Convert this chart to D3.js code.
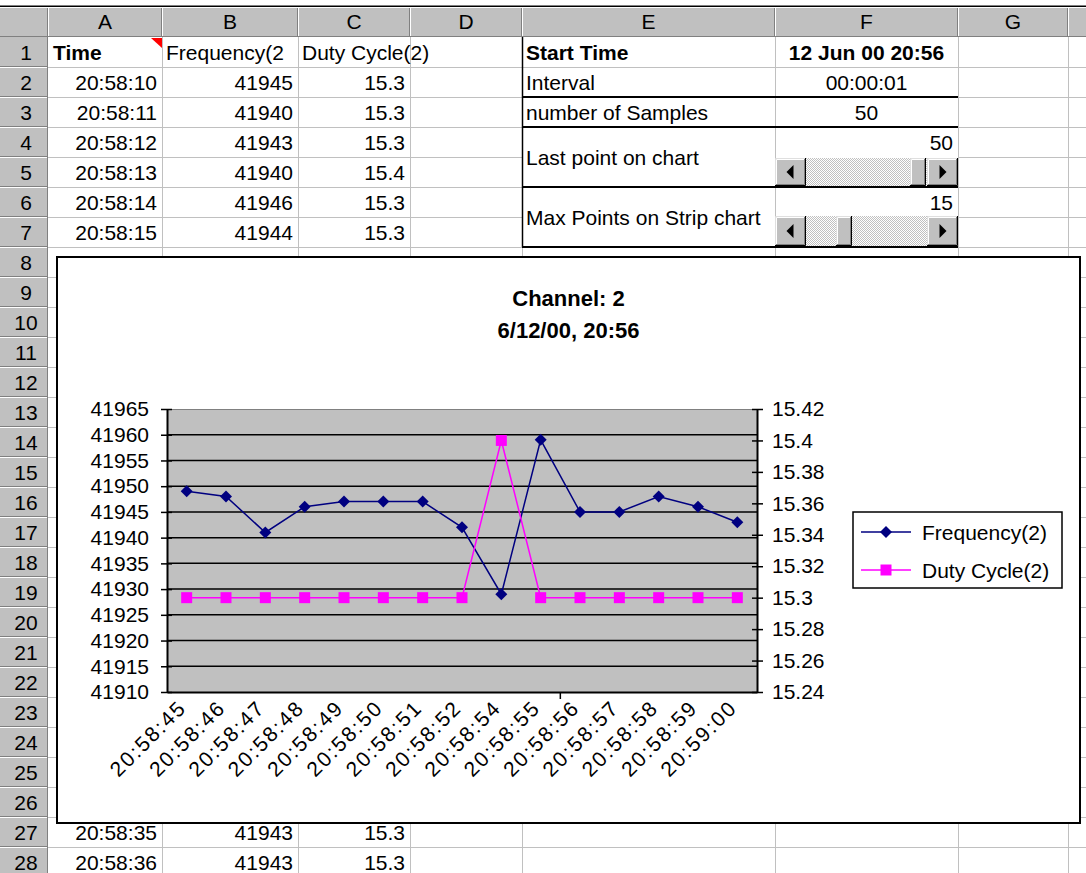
<!DOCTYPE html>
<html><head><meta charset="utf-8">
<script src="https://cdn.jsdelivr.net/npm/d3@7"></script>
<style>
html,body{margin:0;padding:0;background:#fff;}
svg{display:block;font-family:"Liberation Sans",Arial,sans-serif;}
</style></head><body>
<svg id="c" width="1086" height="873"></svg>
<script>
// ---------- chart data ----------
const categories = ["20:58:45","20:58:46","20:58:47","20:58:48","20:58:49","20:58:50","20:58:51","20:58:52","20:58:54","20:58:55","20:58:56","20:58:57","20:58:58","20:58:59","20:59:00"];
const frequency = [41949,41948,41941,41946,41947,41947,41947,41942,41929,41959,41945,41945,41948,41946,41943];
const dutyCycle = [15.3,15.3,15.3,15.3,15.3,15.3,15.3,15.3,15.4,15.3,15.3,15.3,15.3,15.3,15.3];
const freqTicks = [41910,41915,41920,41925,41930,41935,41940,41945,41950,41955,41960,41965];
const dutyTicks = [15.24,15.26,15.28,15.3,15.32,15.34,15.36,15.38,15.4,15.42];
const seriesNames = ["Frequency(2)","Duty Cycle(2)"];
const chartTitle = ["Channel: 2","6/12/00, 20:56"];

// ---------- spreadsheet data ----------
const colLetters = ["A","B","C","D","E","F","G",""];
const headerCells = ["Time","Frequency(2","Duty Cycle(2)"];
const upperTimes = ["20:58:10","20:58:11","20:58:12","20:58:13","20:58:14","20:58:15","20:58:16"];
const upperFreq = [41945,41940,41943,41940,41946,41944,41939];
const upperDuty = ["15.3","15.3","15.3","15.4","15.3","15.3","15.4"];
const lowerTimes = ["20:58:35","20:58:36"];
const lowerFreq = [41943,41943];
const lowerDuty = ["15.3","15.3"];
const infoLabels = ["Start Time","Interval","number of Samples","Last point on chart","Max Points on Strip chart"];
const infoValues = ["12 Jun 00 20:56","00:00:01","50","50","15"];

// ---------- layout ----------
const W = 1086, H = 873;
const colX = [0,48,162,298,410,522,775,958,1068,1086];
const headTop = 7, headBot = 37, rowH = 30, nRows = 28;
const rowTop = n => headBot + (n-1)*rowH;
const FS = 21;

const svg = d3.select("#c");
svg.append("rect").attr("width",W).attr("height",H).attr("fill","#fff");

const defs = svg.append("defs");
const pat = defs.append("pattern").attr("id","dots").attr("width",2).attr("height",2).attr("patternUnits","userSpaceOnUse");
pat.append("rect").attr("width",2).attr("height",2).attr("fill","#fff");
pat.append("rect").attr("width",1).attr("height",1).attr("fill","#c0c0c0");
pat.append("rect").attr("x",1).attr("y",1).attr("width",1).attr("height",1).attr("fill","#c0c0c0");

// ---------- grid ----------
const grid = svg.append("g").attr("stroke","#c0c0c0").attr("stroke-width",1);
for (let i = 2; i <= 8; i++) {
  grid.append("line").attr("x1",colX[i]+0.5).attr("x2",colX[i]+0.5).attr("y1",headBot).attr("y2",H);
}
for (let n = 1; n <= nRows; n++) {
  const y = rowTop(n+1) + 0.5;
  if (n === 4 || n === 6) {
    grid.append("line").attr("x1",colX[1]).attr("x2",colX[5]).attr("y1",y).attr("y2",y);
    grid.append("line").attr("x1",colX[7]).attr("x2",W).attr("y1",y).attr("y2",y);
  } else {
    grid.append("line").attr("x1",colX[1]).attr("x2",W).attr("y1",y).attr("y2",y);
  }
}

// ---------- headers ----------
svg.append("rect").attr("x",0).attr("y",headTop).attr("width",W).attr("height",headBot-headTop).attr("fill","#c0c0c0");
svg.append("rect").attr("x",0).attr("y",headBot).attr("width",colX[1]).attr("height",H-headBot).attr("fill","#c0c0c0");
svg.append("line").attr("x1",0).attr("x2",W).attr("y1",headTop-0.5).attr("y2",headTop-0.5).attr("stroke","#000").attr("stroke-width",2);
const hd = svg.append("g");
for (let i = 1; i <= 8; i++) {
  hd.append("line").attr("x1",colX[i]-0.5).attr("x2",colX[i]-0.5).attr("y1",headTop).attr("y2",headBot).attr("stroke","#808080");
  hd.append("line").attr("x1",colX[i]+0.5).attr("x2",colX[i]+0.5).attr("y1",headTop).attr("y2",headBot).attr("stroke","#fff");
}
hd.append("line").attr("x1",0).attr("x2",W).attr("y1",headBot-0.5).attr("y2",headBot-0.5).attr("stroke","#808080");
hd.append("line").attr("x1",0).attr("x2",W).attr("y1",headTop+0.5).attr("y2",headTop+0.5).attr("stroke","#fff");
hd.append("line").attr("x1",colX[1]-0.5).attr("x2",colX[1]-0.5).attr("y1",headBot).attr("y2",H).attr("stroke","#808080");
for (let n = 1; n <= nRows; n++) {
  const yb = rowTop(n+1);
  hd.append("line").attr("x1",0).attr("x2",colX[1]).attr("y1",yb-0.5).attr("y2",yb-0.5).attr("stroke","#808080");
  hd.append("line").attr("x1",0).attr("x2",colX[1]-1).attr("y1",yb+0.5).attr("y2",yb+0.5).attr("stroke","#fff");
  hd.append("text").attr("x",colX[1]/2+2).attr("y",rowTop(n)+rowH/2+7.5).attr("text-anchor","middle").attr("font-size",FS).text(n);
}
colLetters.forEach((c,i) => {
  hd.append("text").attr("x",(colX[i+1]+colX[i+2])/2).attr("y",headBot-8).attr("text-anchor","middle").attr("font-size",FS).text(c);
});

// ---------- cells ----------
const cells = svg.append("g").attr("font-size",FS);
const base = n => rowTop(n) + rowH/2 + 7.5;
cells.append("text").attr("x",colX[1]+5).attr("y",base(1)).attr("font-weight","bold").text(headerCells[0]);
defs.append("clipPath").attr("id","clipB").append("rect").attr("x",colX[2]).attr("y",rowTop(1)).attr("width",colX[3]-colX[2]).attr("height",rowH);
cells.append("text").attr("x",colX[2]+4).attr("y",base(1)).attr("clip-path","url(#clipB)").text(headerCells[1]);
cells.append("text").attr("x",colX[3]+4).attr("y",base(1)).text(headerCells[2]);
svg.append("path").attr("d",`M${colX[2]-11},${rowTop(1)+1}L${colX[2]},${rowTop(1)+1}L${colX[2]},${rowTop(1)+11}Z`).attr("fill","#ff0000");
function dataRows(times, freqs, duties, firstRow) {
  times.forEach((t,i) => {
    const n = firstRow + i;
    cells.append("text").attr("x",colX[2]-5).attr("y",base(n)).attr("text-anchor","end").text(t);
    cells.append("text").attr("x",colX[3]-5).attr("y",base(n)).attr("text-anchor","end").text(freqs[i]);
    cells.append("text").attr("x",colX[4]-5).attr("y",base(n)).attr("text-anchor","end").text(duties[i]);
  });
}
dataRows(upperTimes, upperFreq, upperDuty, 2);
dataRows(lowerTimes, lowerFreq, lowerDuty, 27);

// info block
const eX = colX[5]+4, fMid = (colX[6]+colX[7])/2;
cells.append("text").attr("x",eX).attr("y",base(1)).attr("font-weight","bold").text(infoLabels[0]);
cells.append("text").attr("x",fMid).attr("y",base(1)).attr("font-weight","bold").attr("text-anchor","middle").text(infoValues[0]);
cells.append("text").attr("x",eX).attr("y",base(2)).text(infoLabels[1]);
cells.append("text").attr("x",fMid).attr("y",base(2)).attr("text-anchor","middle").text(infoValues[1]);
cells.append("text").attr("x",eX).attr("y",base(3)).text(infoLabels[2]);
cells.append("text").attr("x",fMid).attr("y",base(3)).attr("text-anchor","middle").text(infoValues[2]);
cells.append("text").attr("x",eX).attr("y",rowTop(5)+7.5).text(infoLabels[3]);
cells.append("text").attr("x",colX[7]-5).attr("y",base(4)).attr("text-anchor","end").text(infoValues[3]);
cells.append("text").attr("x",eX).attr("y",rowTop(7)+7.5).text(infoLabels[4]);
cells.append("text").attr("x",colX[7]-5).attr("y",base(6)).attr("text-anchor","end").text(infoValues[4]);

// borders
const bd = svg.append("g").attr("stroke","#000").attr("stroke-width",2);
[3,4,6,8].forEach(n => bd.append("line").attr("x1",colX[5]).attr("x2",colX[7]).attr("y1",rowTop(n)).attr("y2",rowTop(n)));
bd.append("line").attr("x1",colX[5]+0.5).attr("x2",colX[5]+0.5).attr("y1",headBot).attr("y2",rowTop(8)).attr("stroke-width",1.5);

// scrollbars
function scrollbar(x0, x1, y0, y1, t0, t1) {
  const g = svg.append("g");
  g.append("rect").attr("x",x0).attr("y",y0).attr("width",x1-x0).attr("height",y1-y0).attr("fill","url(#dots)");
  const bw = 31;
  function bevel(bx0, bx1) {
    g.append("rect").attr("x",bx0).attr("y",y0).attr("width",bx1-bx0).attr("height",y1-y0).attr("fill","#c0c0c0");
    g.append("path").attr("d",`M${bx0+0.5},${y1-1}V${y0+0.5}H${bx1-1}`).attr("fill","none").attr("stroke","#dfdfdf");
    g.append("path").attr("d",`M${bx0+1.5},${y1-2}V${y0+1.5}H${bx1-2}`).attr("fill","none").attr("stroke","#fff");
    g.append("path").attr("d",`M${bx0+1},${y1-1.5}H${bx1-1.5}V${y0+1}`).attr("fill","none").attr("stroke","#808080");
    g.append("path").attr("d",`M${bx0},${y1-0.5}H${bx1-0.5}V${y0}`).attr("fill","none").attr("stroke","#000");
  }
  bevel(x0, x0+bw);
  bevel(x1-bw, x1);
  bevel(t0, t1);
  const cy = (y0+y1)/2;
  g.append("path").attr("d",`M${x0+bw/2-4},${cy}L${x0+bw/2+3},${cy-7}L${x0+bw/2+3},${cy+7}Z`).attr("fill","#000");
  g.append("path").attr("d",`M${x1-bw/2+4},${cy}L${x1-bw/2-3},${cy-7}L${x1-bw/2-3},${cy+7}Z`).attr("fill","#000");
}
scrollbar(colX[6], colX[7], rowTop(5)+1, rowTop(6)-1, 910, 926);
scrollbar(colX[6], colX[7], rowTop(7)-1, rowTop(8)-1, 836, 852);

// ---------- chart ----------
const frame = {x:57, y:257, w:1023, h:566};
const plot = {l:167, r:757, t:409, b:692};
const ch = svg.append("g");
ch.append("rect").attr("x",frame.x).attr("y",frame.y).attr("width",frame.w).attr("height",frame.h).attr("fill","#fff").attr("stroke","#000").attr("stroke-width",2);

ch.selectAll("text.title").data(chartTitle).join("text").attr("class","title")
  .attr("x",frame.x+frame.w/2).attr("y",(d,i) => 306 + i*32)
  .attr("text-anchor","middle").attr("font-weight","bold").attr("font-size",22).text(d => d);

const x = d3.scaleBand().domain(categories).range([plot.l, plot.r]);
const yL = d3.scaleLinear().domain([41910,41965]).range([plot.b, plot.t]);
const yR = d3.scaleLinear().domain([15.24,15.42]).range([plot.b, plot.t]);
const cx = d => x(d) + x.bandwidth()/2;

ch.append("rect").attr("x",plot.l).attr("y",plot.t).attr("width",plot.r-plot.l).attr("height",plot.b-plot.t).attr("fill","#c0c0c0");
ch.selectAll("line.grid").data(freqTicks.slice(1,-1)).join("line").attr("class","grid")
  .attr("x1",plot.l).attr("x2",plot.r).attr("y1",d => yL(d)).attr("y2",d => yL(d)).attr("stroke","#000").attr("stroke-width",1.5);
ch.append("line").attr("x1",plot.l).attr("x2",plot.r).attr("y1",plot.t+0.5).attr("y2",plot.t+0.5).attr("stroke","#808080");

// left axis
const axL = ch.append("g").attr("transform",`translate(${plot.l},0)`)
  .call(d3.axisLeft(yL).tickValues(freqTicks).tickFormat(d3.format("d")).tickSize(6).tickSizeOuter(0).tickPadding(12));
axL.selectAll(".tick line").attr("x1",5).attr("stroke-width",1.5);
axL.select(".domain").attr("stroke-width",2);
axL.selectAll("text").attr("font-size",FS).attr("font-family","Liberation Sans, Arial, sans-serif").attr("fill","#000");

// right axis
const axR = ch.append("g").attr("transform",`translate(${plot.r},0)`)
  .call(d3.axisRight(yR).tickValues(dutyTicks).tickFormat(d => String(+d.toFixed(2))).tickSize(6).tickSizeOuter(0).tickPadding(9));
axR.selectAll(".tick line").attr("x1",-5).attr("stroke-width",1.5);
axR.select(".domain").attr("stroke-width",2);
axR.selectAll("text").attr("font-size",FS).attr("font-family","Liberation Sans, Arial, sans-serif").attr("fill","#000");

// bottom axis
const axB = ch.append("g").attr("transform",`translate(0,${plot.b})`)
  .call(d3.axisBottom(x).tickSize(0).tickSizeOuter(0).tickFormat(""));
axB.select(".domain").attr("stroke-width",2);
axB.append("line").attr("x1",x(categories[10])).attr("x2",x(categories[10])).attr("y1",0).attr("y2",7).attr("stroke","#000").attr("stroke-width",1.5);
ch.selectAll("text.xl").data(categories).join("text").attr("class","xl")
  .attr("transform",d => `translate(${cx(d)+1},${plot.b+17}) rotate(-45)`)
  .attr("text-anchor","end").attr("font-size",FS).attr("letter-spacing",2).text(d => d);

// series
const lineF = d3.line().x((d,i) => cx(categories[i])).y(d => yL(d));
const lineD = d3.line().x((d,i) => cx(categories[i])).y(d => yR(d));
ch.append("path").datum(frequency).attr("d",lineF).attr("fill","none").attr("stroke","#000080").attr("stroke-width",1.5);
const diamond = "M0,-6L6,0L0,6L-6,0Z";
ch.selectAll("path.mf").data(frequency).join("path").attr("class","mf")
  .attr("transform",(d,i) => `translate(${cx(categories[i])},${yL(d)})`).attr("d",diamond).attr("fill","#000080");
ch.append("path").datum(dutyCycle).attr("d",lineD).attr("fill","none").attr("stroke","#ff00ff").attr("stroke-width",1.5);
const square = d3.symbol(d3.symbolSquare, 121)();
ch.selectAll("path.md").data(dutyCycle).join("path").attr("class","md")
  .attr("transform",(d,i) => `translate(${cx(categories[i])},${yR(d)})`).attr("d",square).attr("fill","#ff00ff");

// legend
const lg = ch.append("g");
lg.append("rect").attr("x",853).attr("y",512).attr("width",209).attr("height",76).attr("fill","#fff").attr("stroke","#000").attr("stroke-width",1.5);
const lgColors = ["#000080","#ff00ff"];
seriesNames.forEach((s,i) => {
  const y = 532 + i*38;
  lg.append("line").attr("x1",861).attr("x2",911).attr("y1",y).attr("y2",y).attr("stroke",lgColors[i]).attr("stroke-width",1.5);
  lg.append("path").attr("transform",`translate(886,${y})`).attr("d",i===0?diamond:square).attr("fill",lgColors[i]);
  lg.append("text").attr("x",922).attr("y",y+7.5).attr("font-size",FS).text(s);
});
</script>
</body></html>
